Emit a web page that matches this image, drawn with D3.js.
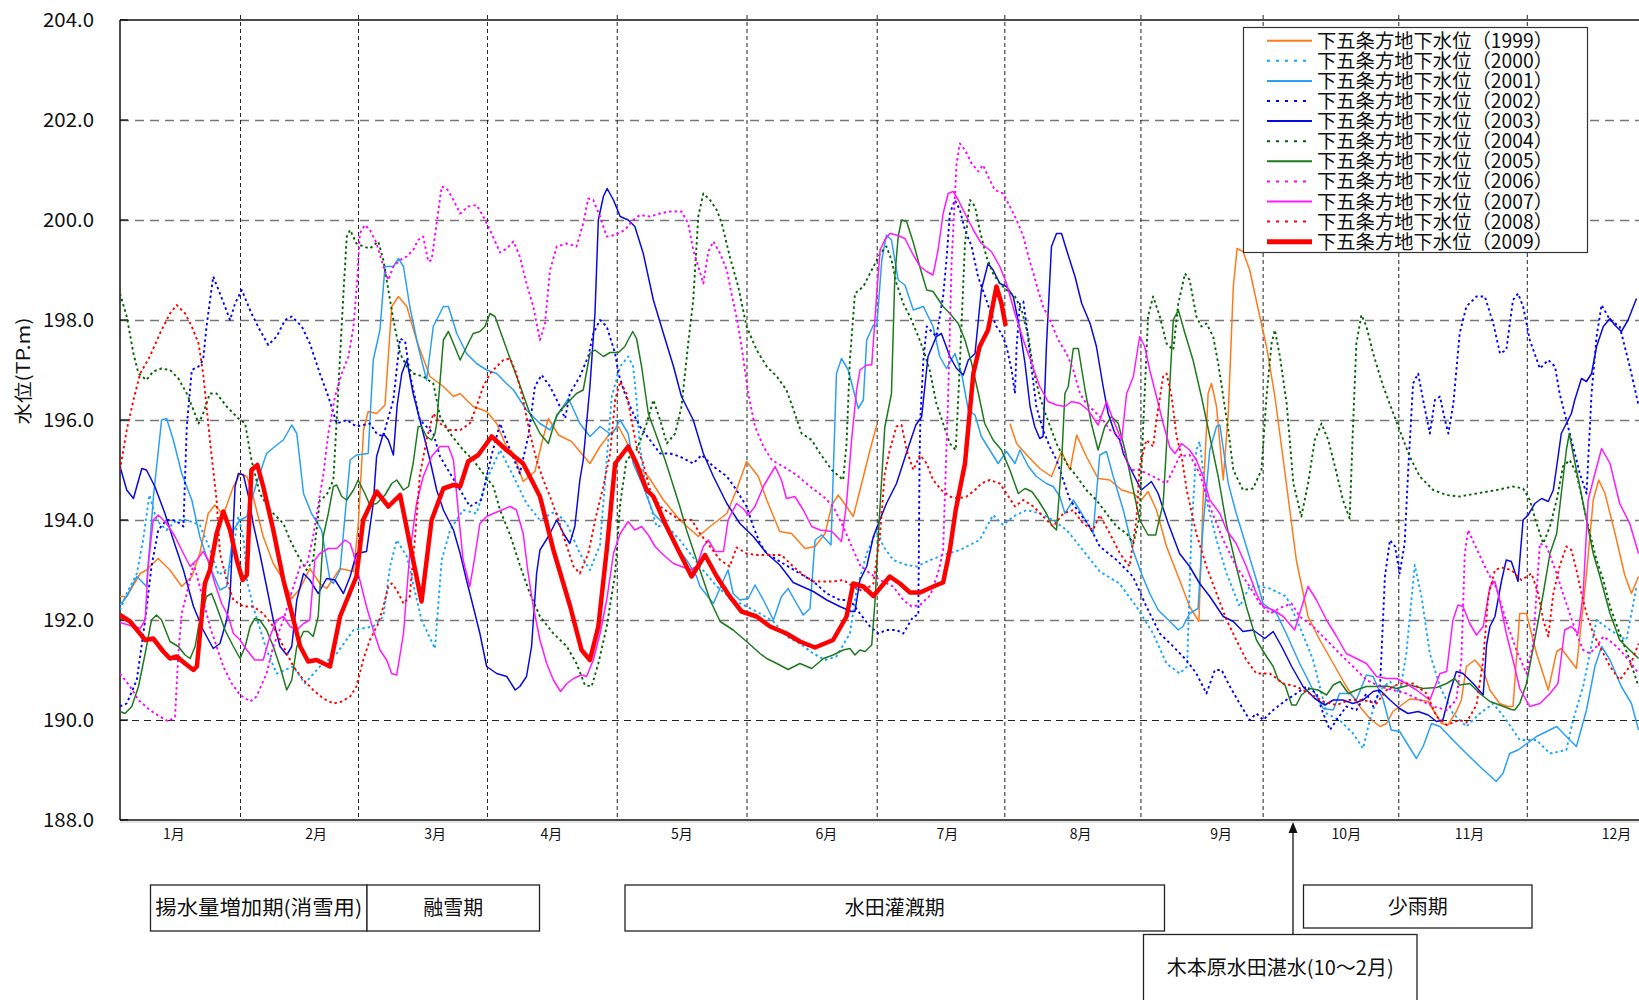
<!DOCTYPE html>
<html><head><meta charset="utf-8">
<script src="https://cdn.jsdelivr.net/npm/d3@7"></script>
<style>
body{margin:0;background:#fff}
svg{display:block}
text{font-family:"Noto Sans CJK JP","Noto Sans",sans-serif;fill:#111}
</style>
</head><body>
<svg id="c" width="1639" height="1000"></svg>
<script>
// ---------- data ----------
const yTicks = [188,190,192,194,196,198,200,202,204];
const sepDays = [28.7,56.8,87.5,118.4,149.3,180.3,210.7,243.1,272.2,304.5,335.1];
const monthDays = [12.7,46.6,74.9,102.6,133.7,168.1,196.9,228.6,262.1,291.9,321.2,356.2];
const monthLabels = ["1月","2月","3月","4月","5月","6月","7月","8月","9月","10月","11月","12月"];
const years = [1999,2000,2001,2002,2003,2004,2005,2006,2007,2008,2009];
const legendPrefix = "下五条方地下水位";
const periodLabels = ["揚水量増加期(消雪用)","融雪期","水田灌漑期","少雨期","木本原水田湛水(10〜2月)"];
const yTitle = "水位(TP.m)";

const s1999 = [[0,192.47],[1.6,192.47],[4.8,192.93],[6.3,193.0],[9.1,193.23],[11.9,193.0],[14.7,192.67],[17.1,192.87],[19,193.33],[21,194.13],[22.6,194.3],[24.6,194.1],[27,194.67],[28.6,194.93],[30.2,194.87],[31.7,194.47],[34.1,193.67],[36.5,193.13],[38.9,192.8],[40.9,192.43],[42.9,192.63],[45.2,193.03],[47.6,192.73],[49.2,192.63],[52.4,193.03],[55.6,192.97],[56.7,193.87],[58,195.8],[59.1,196.17],[61.1,196.13],[63.1,196.3],[64.7,198.27],[66.3,198.47],[68.3,198.27],[70.6,197.6],[73.8,196.87],[77,196.67],[79.4,196.47],[81,196.53],[84.1,196.27],[87.3,196.17],[89.7,195.93],[92,195.47],[93.7,195.33],[96,194.77],[98.8,194.97],[100.4,195.53],[102,196.03],[104.4,195.7],[107.5,195.57],[111.9,195.13],[114.3,195.47],[116.7,195.73],[118.7,195.87],[120.6,195.57],[123,195.1],[125.8,194.87],[129.4,194.4],[133.3,194.0],[137.7,193.67],[140.5,193.87],[144.5,194.13],[146.8,194.6],[149.2,195.17],[152,194.87],[154,194.4],[157.1,193.77],[159.9,193.73],[163.1,193.43],[165.5,193.47],[167.9,193.73],[169.5,194.3],[171,194.5],[173,194.27],[174.6,194.07],[176.6,194.73],[178.6,195.4],[180.2,195.9],[181,null],[211.9,195.93],[213.5,195.53],[215.9,195.3],[219,195.03],[221.8,194.87],[224.2,195.37],[226.2,195.0],[227.8,195.7],[230.1,195.27],[232.9,194.83],[235.7,194.8],[238.5,194.6],[241.3,194.53],[243.2,194.4],[244.8,194.57],[246.8,194.2],[249.2,193.47],[252.3,192.8],[254.7,192.27],[256.9,191.97],[257.9,194.4],[259.1,196.53],[259.9,196.73],[261.1,196.27],[262.7,194.8],[263.9,196.13],[265.1,198.67],[266,199.43],[267.4,199.37],[269,199.0],[271.4,198.07],[273,197.47],[275,196.47],[277,195.2],[280.1,193.2],[282.9,192.07],[285.7,191.6],[288.9,191.13],[292,190.67],[295.2,190.27],[297.6,190.03],[300,189.87],[301.6,189.93],[303.1,190.17],[304.7,190.27],[307.1,190.42],[309.5,190.4],[311.5,190.37],[312.7,190.2],[314.7,189.93],[316.2,189.9],[318.2,190.17],[319.4,190.4],[320.6,191.07],[322.6,191.2],[324.6,191.0],[326.2,190.6],[328.5,190.33],[330.5,190.27],[331.7,190.27],[333.3,192.13],[334.9,192.13],[337.3,191.33],[340.1,190.6],[342.1,191.37],[343.2,191.43],[346.8,191.03],[349.2,192.93],[350.8,194.4],[352.1,194.8],[353.6,194.53],[356,193.73],[358.3,192.9],[359.9,192.53],[361.6,192.87]];

const s2000 = [[0,192.2],[1.6,192.53],[4,192.93],[5.5,193.6],[7,194.5],[8.7,194.0],[11.1,193.8],[13.5,194.0],[15.9,194.0],[19,193.9],[21.5,193.4],[23.5,192.9],[26.2,193.07],[28.2,194.07],[29.5,193.6],[30.2,192.8],[31.7,192.27],[34.9,191.4],[37.3,190.93],[41.3,191.07],[44,190.73],[47.6,191.07],[51.6,191.33],[55.6,191.8],[60.3,191.87],[62.7,192.07],[64.3,193.07],[65.9,193.6],[68.3,193.27],[71.8,192.0],[75,191.43],[76.6,193.2],[78.6,193.8],[81.7,194.2],[84.9,194.13],[87.3,194.8],[90.5,195.4],[93.7,194.87],[96.8,194.33],[100,194.0],[103.6,194.17],[106.4,193.93],[109.5,193.33],[111.9,193.0],[114.3,193.5],[115.9,195.2],[117.1,196.47],[119.1,197.07],[121,197.27],[122.2,197.07],[123,196.4],[123.8,195.47],[125.4,194.53],[127.8,193.87],[130,193.9],[133.3,193.6],[138.1,193.07],[142.1,192.67],[146,192.4],[149.2,192.27],[152.4,192.13],[155.6,191.97],[158.7,191.67],[161.9,191.53],[165.1,191.33],[167.9,191.2],[170.6,191.27],[173.8,191.73],[175.4,192.6],[177.8,193.33],[180.2,193.8],[181.8,193.47],[184.1,193.2],[187.3,193.1],[189.7,193.07],[193,193.2],[196,193.3],[200,193.4],[204.7,193.6],[207.9,194.1],[210.3,193.9],[212.7,194.07],[215.9,194.2],[219,194.13],[222.2,194.0],[225.4,193.8],[228.6,193.47],[233.3,192.97],[238,192.73],[242,192.27],[246,191.73],[249.2,191.13],[252.3,190.93],[254.1,191.07],[255.1,193.73],[256.3,195.4],[257.1,195.57],[258.7,194.4],[261.1,193.6],[263.5,192.93],[266.6,192.27],[269,192.67],[271.4,192.67],[273.8,192.63],[277.7,192.47],[280.9,191.87],[284.1,191.2],[287.3,190.13],[290.4,190.0],[293.6,189.73],[296,189.43],[297.6,190.0],[300,190.6],[302.4,190.77],[304.7,190.53],[306.3,191.33],[308.3,193.1],[309.9,192.47],[311.9,191.33],[314.3,190.67],[317.4,190.13],[320.6,189.87],[323.8,190.13],[327,190.33],[330.1,190.0],[333.3,189.6],[337.3,189.6],[340.5,189.33],[344.4,189.4],[346,190.0],[348.4,190.67],[351.6,192.0],[354.8,191.8],[358.7,191.6],[361.1,192.67]];

const s2001 = [[0,192.3],[1.6,192.47],[4,192.87],[6.3,192.67],[8,194.5],[9.9,196.0],[11.1,196.03],[12.7,195.6],[14.7,194.93],[17.1,194.4],[19,193.67],[21.4,193.07],[23.8,192.6],[25.4,192.67],[27,193.8],[28.6,194.0],[30.2,194.07],[32.5,194.73],[34.9,195.33],[37.3,195.5],[38.9,195.6],[40.9,195.9],[42.1,195.73],[43.7,194.53],[45.6,194.13],[48,193.8],[50,192.8],[50.8,192.73],[52.4,193.0],[54.8,195.2],[56.3,195.3],[59.1,195.33],[60.3,197.2],[61.9,197.8],[63.1,199.07],[65.1,199.07],[66.3,199.23],[67.5,199.07],[69,198.27],[71,197.47],[73,196.8],[74.6,197.87],[77,198.27],[78.2,198.27],[80.2,197.73],[82.5,197.33],[84.9,197.13],[87.3,197.0],[89.7,196.93],[92,196.73],[93.7,196.6],[96.8,196.2],[100,195.93],[102.4,195.8],[104.4,196.13],[106.8,196.43],[109.5,195.93],[111.9,195.67],[114.3,195.87],[117.1,195.7],[119.1,196.0],[121,195.73],[122.2,195.13],[124.6,194.67],[127,194.13],[129.4,193.93],[132.5,193.47],[134.9,193.2],[137.3,192.87],[138.1,192.67],[141.3,192.33],[143.7,192.8],[144.8,193.0],[146,192.53],[147.6,192.4],[149.6,192.43],[151.2,192.7],[153.2,192.4],[155.6,192.0],[157.5,192.47],[159.1,192.63],[161.1,192.33],[162.7,192.1],[164.3,192.23],[165.5,193.6],[167.1,193.7],[169.3,193.5],[170.6,196.93],[171.8,197.23],[173.4,197.0],[175.8,196.23],[177,196.4],[177.8,197.6],[179.4,197.9],[180.2,197.87],[181.4,199.2],[182.5,199.7],[183.7,199.6],[185.3,198.8],[186.9,198.7],[188.9,198.2],[191.3,198.27],[193.6,197.87],[195.2,197.27],[196.8,197.03],[198.8,197.33],[200.4,196.93],[202,196.2],[203.6,196.1],[205.1,195.67],[207.1,195.4],[209.1,195.13],[211.1,195.37],[213.1,195.13],[214.3,195.4],[216.3,195.07],[218.2,194.87],[220.6,194.73],[222.2,194.67],[223.8,194.47],[225,194.13],[227,194.4],[229,194.13],[231.7,193.73],[233.3,195.3],[234.9,195.37],[236.5,194.87],[238.9,194.2],[241.2,193.4],[243.2,192.93],[245.2,192.53],[247.2,192.2],[250,191.97],[252,191.8],[253.1,191.87],[254.7,192.13],[256.7,192.23],[257.9,193.87],[259.5,195.4],[261.1,195.87],[261.9,195.9],[263.9,194.73],[265.8,194.13],[268.2,193.47],[270.6,192.8],[272.2,192.33],[275.4,192.13],[277.7,191.73],[280.9,191.13],[284.1,190.6],[286.5,190.23],[288.9,190.2],[290.4,190.53],[292.8,190.53],[294.4,190.4],[296.8,190.9],[298.4,190.87],[300.8,190.4],[302.7,189.8],[304.7,189.77],[308.7,189.23],[310.3,189.47],[312.3,189.93],[314.3,189.87],[317.4,189.6],[320.6,189.33],[323.8,189.07],[327.7,188.77],[329.3,188.93],[330.9,189.33],[332.9,189.4],[337.3,189.67],[342.1,189.87],[344.4,189.67],[346.8,189.47],[349.2,190.2],[351.2,191.07],[352.8,191.47],[354.8,191.2],[357.5,190.67],[359.9,190.33],[361.6,189.8]];

const s2002 = [[0,190.27],[1.6,190.33],[4,190.8],[6,192.0],[7.5,193.07],[9.1,193.8],[11.1,194.0],[12.7,194.0],[14.3,193.93],[15.1,193.87],[15.9,195.87],[17.1,197.0],[18.7,197.07],[19.8,197.2],[20.6,197.87],[22.2,198.87],[23.8,198.53],[26.2,198.0],[27.4,198.33],[29,198.6],[31.3,198.13],[33.3,197.8],[35.3,197.5],[37.3,197.67],[39.3,198.0],[40.9,198.07],[43.3,197.87],[45.2,197.53],[47.6,196.93],[49.6,196.47],[51.6,195.93],[54,196.0],[56.3,195.87],[59.5,195.93],[61.1,195.73],[62.7,195.67],[63.5,195.93],[65.1,196.4],[66.7,197.63],[67.9,197.57],[69,196.93],[71.4,196.0],[74.6,195.73],[76.2,195.27],[78.6,194.93],[81,194.6],[83.3,194.27],[86,194.4],[88.5,195.3],[90.5,195.93],[92.9,195.4],[95.2,194.93],[97.2,195.67],[98.8,196.67],[100.4,196.9],[102.4,196.67],[104.4,196.33],[106,196.03],[107.1,196.53],[109.5,196.87],[111.5,197.27],[112.7,197.73],[114.3,198.0],[115.9,197.87],[117.9,197.33],[118.7,196.93],[120.2,196.53],[122.2,196.13],[123.8,195.87],[126.2,195.6],[128.6,195.33],[131,195.33],[133.3,195.27],[136.5,195.13],[138.5,195.3],[141.3,195.07],[144.5,194.87],[146.8,194.6],[149.2,194.27],[150.8,193.87],[152.4,193.53],[154,193.33],[157.9,193.13],[161.9,192.93],[165.1,192.77],[168.3,192.53],[171.4,192.4],[173.8,192.4],[176.2,192.13],[178.6,191.87],[180.6,191.73],[182.5,191.8],[184.9,191.8],[186.5,191.73],[188.9,192.07],[190.1,192.1],[190.4,195.3],[190.6,196.07],[191.3,197.2],[192.1,197.87],[194.4,197.67],[196,198.47],[196.8,199.2],[197.6,200.13],[198.8,200.4],[200,200.2],[201.2,199.8],[202.8,199.47],[204.3,198.87],[206,198.47],[207.1,198.2],[208.7,197.87],[209.9,197.73],[211.1,197.47],[212.3,197.0],[213.1,196.53],[213.5,197.47],[214.3,198.33],[215.1,198.37],[215.9,197.87],[217.1,197.0],[218.2,196.27],[219.8,195.8],[221.4,195.47],[223,195.2],[224.6,194.8],[226.2,194.4],[228.6,194.13],[230.9,193.87],[233.3,193.47],[237.3,193.2],[241.2,192.87],[244.4,192.27],[247.6,191.73],[250.8,191.47],[253.9,191.2],[256.3,190.93],[258.7,190.53],[260.7,191.0],[262.3,191.0],[264.3,190.67],[266.6,190.33],[269,190.0],[270.6,190.13],[272.2,190.0],[274.6,190.2],[277.7,190.4],[280.1,190.53],[282.5,190.67],[284.9,190.53],[286.5,190.13],[288.1,189.8],[289.7,190.0],[292,190.27],[294.4,190.2],[296.8,190.53],[298.4,190.27],[300,190.6],[301.2,192.87],[302.4,193.6],[303.6,193.47],[304.7,192.93],[305.9,193.53],[306.7,194.93],[307.9,196.73],[309.1,196.93],[310.3,196.4],[311.9,195.73],[313.1,196.4],[314.3,196.47],[315.5,196.0],[316.3,195.73],[317.5,196.33],[319,197.73],[320.6,198.27],[323,198.47],[325,198.47],[327,197.93],[328.6,197.33],[330.1,197.4],[331.7,198.4],[332.9,198.53],[334.1,198.27],[335.7,197.6],[338.1,197.03],[340.1,197.2],[341.7,197.07],[342.8,196.53],[344.4,196.0],[346,195.47],[347.6,194.93],[349.2,194.53],[350.4,196.53],[351.6,197.67],[352.8,198.3],[354.8,198.0],[357.1,197.87],[359.5,197.07],[361.5,196.33]];

const s2003 = [[0,195.07],[1.6,194.6],[3.2,194.43],[5.2,195.03],[6.3,195.0],[8.3,194.67],[10.7,194.13],[12.7,193.6],[15.1,193.0],[17.5,192.27],[19.8,191.8],[22.2,191.43],[23.8,191.53],[25.4,192.0],[26.2,192.47],[27.4,194.67],[28.2,194.93],[29.4,194.9],[30.6,194.47],[31.7,193.93],[33.3,193.33],[34.9,192.67],[36.5,192.0],[38.1,191.47],[39.7,191.3],[40.9,191.47],[42.1,192.4],[43.7,192.93],[45.2,192.8],[47.2,192.53],[49.2,192.83],[51.2,192.8],[53.2,192.53],[54.8,192.87],[56.3,193.33],[58.7,193.37],[60.3,194.33],[61.1,195.27],[62.7,195.73],[63.9,195.6],[65.1,195.3],[66,196.3],[67.1,196.93],[68.3,197.2],[69.8,196.53],[71.8,195.87],[73.8,195.2],[75.4,194.6],[77,194.2],[79.4,193.8],[81,193.33],[82.5,192.8],[84.1,192.27],[85.7,191.73],[87.3,191.07],[89.7,190.93],[92.1,190.87],[94.1,190.6],[95.2,190.67],[96.8,190.87],[98,191.47],[99.2,192.93],[100,193.4],[102,193.67],[104,194.0],[105.6,193.73],[107.1,193.53],[108.3,193.87],[109.5,194.8],[110.3,195.2],[111.9,196.67],[113.1,198.13],[113.9,200.0],[115.1,200.47],[116,200.63],[117.5,200.4],[119.1,200.07],[121,200.0],[122.6,199.87],[124.6,199.33],[127,198.4],[129.4,197.73],[131.8,197.07],[133.7,196.47],[136.5,196.0],[138.9,195.33],[141.3,194.87],[144.5,194.33],[147.6,193.93],[150.8,193.67],[154,193.33],[157.1,193.1],[160.3,192.75],[165.1,192.57],[168.3,192.4],[171.4,192.27],[174.2,192.17],[175,192.17],[176.2,192.8],[177.8,193.07],[179.4,193.67],[180.6,193.93],[182.5,194.33],[184.9,194.73],[187.3,195.35],[189.5,195.9],[190.9,196.07],[192.4,197.27],[194.4,197.67],[195.6,197.73],[197.6,197.27],[199.2,197.03],[200.8,196.9],[202,197.2],[203.6,197.33],[205.1,198.6],[206.7,199.13],[207.9,199.0],[209.5,198.73],[211.1,198.67],[212.7,198.47],[214.3,197.8],[215.5,197.13],[216.7,196.27],[217.8,195.87],[219,195.63],[219.8,195.67],[220.6,197.47],[221.8,199.47],[223,199.73],[224.2,199.73],[225.4,199.4],[227.4,198.87],[229,198.33],[231,197.93],[232.5,197.47],[234.1,196.67],[235.3,196.13],[236.9,195.73],[238.1,195.6],[238.9,195.33],[241.2,194.93],[243.2,194.6],[245.6,194.77],[247.2,194.53],[249.6,193.93],[252.3,193.33],[254.7,193.07],[257.1,192.73],[259.5,192.47],[262.7,192.07],[265.1,191.97],[267.4,191.77],[269.8,191.8],[272.6,191.63],[274.6,191.77],[276.6,191.47],[279,191.07],[281.7,190.67],[284.5,190.43],[286.9,190.3],[288.9,190.4],[291.2,190.4],[293.6,190.33],[296,190.4],[298.4,190.57],[300,190.6],[302.4,190.4],[304.7,190.23],[306.7,190.13],[309.1,190.17],[311.5,190.1],[313.5,189.97],[315,190.0],[316.6,190.53],[318.2,190.97],[319.8,190.93],[322.2,190.73],[324.6,190.5],[325.4,191.5],[326.2,191.87],[327.4,192.07],[329,192.8],[330.1,193.2],[331.3,193.17],[332.9,192.77],[334.1,194.0],[335.3,194.1],[336.9,194.33],[338.5,194.43],[340.1,194.37],[341.3,194.6],[342.1,195.07],[343.2,195.73],[344.4,195.93],[345.6,196.13],[346.4,196.4],[348,196.83],[349.2,196.77],[350.4,196.93],[351.6,197.47],[353.2,197.87],[354.8,198.03],[355.9,197.9],[357.5,197.77],[359.1,198.0],[361.1,198.43]];

const s2004 = [[0,198.53],[1.6,198.07],[3.2,197.33],[4.4,196.93],[6.3,196.8],[7.9,196.97],[9.9,197.03],[11.9,197.0],[13.9,196.83],[15.9,196.53],[17.5,196.2],[18.7,195.93],[19.8,196.13],[21.4,196.53],[23,196.53],[25.4,196.27],[28.2,196.03],[29.8,195.93],[31.3,195.2],[33.3,194.53],[35.7,194.2],[38.9,193.93],[40.5,193.6],[42.1,193.33],[44.4,193.0],[46,193.2],[47.6,194.4],[49.2,194.5],[50.8,194.8],[51.6,196.0],[52.4,197.27],[53.2,198.53],[54,199.67],[54.8,199.8],[56.3,199.53],[57.9,199.47],[59.5,199.43],[61.5,199.57],[62.7,199.2],[63.9,198.6],[65.1,198.0],[66.7,197.33],[68.3,197.07],[69.8,196.93],[72.2,196.87],[74.6,196.73],[76.2,196.07],[78.6,195.73],[81.7,195.4],[84.1,195.2],[86.5,194.93],[88.9,194.67],[90.5,194.2],[92.9,193.7],[95.2,193.1],[97.6,192.53],[100,192.07],[103.2,191.73],[106.4,191.47],[108.7,191.13],[110.7,190.7],[112.3,190.67],[113.9,191.13],[115.9,191.87],[117.9,192.93],[119.1,194.33],[120.6,195.2],[123,195.4],[125.4,195.93],[127,196.4],[128.6,196.0],[130.2,195.53],[132.2,195.73],[133.7,196.27],[135.3,197.53],[136.5,198.4],[137.7,200.07],[138.9,200.53],[140.5,200.4],[142.1,200.2],[143.3,199.93],[145.2,199.27],[147.2,198.67],[149.2,197.87],[151.6,197.4],[154,197.07],[156.4,196.87],[158.7,196.6],[160.7,196.13],[162.3,195.73],[164.7,195.6],[166.7,195.33],[169.5,195.0],[172.2,194.8],[173,195.53],[173.8,197.2],[175,198.53],[177,198.67],[179,199.0],[181,199.33],[182.5,199.47],[183.7,199.2],[184.9,198.73],[186.5,198.33],[188.1,198.07],[190.1,197.67],[191.3,197.4],[192.8,197.0],[194.4,196.33],[196,195.93],[197.6,195.53],[199,195.4],[200,197.13],[201.2,199.53],[202.4,200.4],[203.6,200.27],[204.7,199.8],[206.3,199.27],[207.9,198.93],[209.5,198.73],[211.1,198.6],[213.1,198.47],[214.7,198.2],[216.3,197.67],[217.5,197.0],[219,196.47],[220.6,196.07],[223,195.53],[225.4,195.13],[227.8,194.87],[230.1,194.6],[232.5,194.4],[234.9,194.13],[237.3,193.87],[239.7,193.73],[241.3,193.53],[242.8,194.07],[243.6,195.8],[244.8,198.07],[246,198.47],[247.6,198.07],[249.2,197.53],[250.8,197.4],[252,198.33],[253.6,198.93],[254.7,198.8],[256.3,198.07],[257.5,197.87],[258.7,197.93],[260.3,197.67],[261.5,197.13],[262.7,196.47],[263.9,195.8],[265.1,195.0],[267.4,194.6],[269.8,194.63],[271.8,195.0],[273,196.47],[274.2,197.53],[275,197.8],[276.2,197.27],[277.8,196.33],[279.4,194.73],[281.3,194.07],[282.9,194.73],[284.5,195.6],[286.1,195.93],[287.7,195.6],[289.3,195.07],[291.2,194.4],[292.8,194.03],[293.6,195.87],[294.4,197.53],[295.6,198.1],[296.8,197.87],[298.4,197.33],[300.8,196.67],[303.2,196.13],[304.7,195.8],[307.1,195.27],[309.5,194.87],[312.7,194.6],[315.9,194.5],[319,194.47],[323,194.53],[327.8,194.6],[331.7,194.67],[334.1,194.63],[335.7,194.4],[337.3,193.93],[338.9,193.53],[340.5,193.87],[342.1,194.4],[343.6,195.07],[345.2,195.2],[346.8,194.93],[348.4,194.33],[350,193.73],[351.6,193.2],[353.2,192.8],[354.8,192.27],[357.1,191.73],[359.5,191.2],[361.6,190.67]];

const s2005 = [[0,190.17],[1.2,190.13],[2.8,190.27],[4.4,190.67],[6,191.33],[7.5,192.0],[8.7,192.1],[9.9,192.0],[11.9,191.57],[13.9,191.47],[15.5,191.3],[16.7,191.23],[17.9,191.47],[18.7,191.87],[20.6,192.47],[21.8,192.53],[23,192.27],[25,191.8],[27,191.47],[28.6,191.23],[29.8,191.47],[31,191.87],[32.1,192.03],[33.3,192.0],[34.9,191.8],[36.5,191.47],[38.1,191.07],[39.7,190.6],[40.9,190.8],[42.1,191.47],[43.7,191.77],[44.8,191.77],[46,191.67],[47.2,192.07],[48.4,193.67],[49.6,194.13],[50.8,194.67],[51.6,194.7],[52.8,194.47],[54,194.4],[55.6,194.6],[56.7,194.8],[58.3,194.53],[59.5,194.3],[61.1,194.33],[63.1,194.5],[64.7,194.73],[65.9,194.8],[67.5,194.6],[68.7,194.67],[69.8,195.13],[71,195.87],[71.8,195.87],[73,195.67],[74.2,195.6],[75,195.73],[75.4,195.93],[77,197.6],[78.2,197.77],[79.4,197.53],[81,197.2],[82.9,197.53],[84.1,197.73],[85.7,197.77],[86.9,197.87],[88.1,198.13],[89.3,198.07],[91.3,197.6],[93.3,197.13],[95.2,196.7],[97.6,196.13],[100,195.73],[102,195.53],[104,196.1],[106.4,196.33],[108.7,196.53],[110.3,196.6],[111.9,197.33],[113.1,197.4],[115.1,197.27],[116.7,197.35],[118.7,197.35],[120.2,197.47],[121,197.6],[122.1,197.77],[123,197.63],[124.2,197.07],[125.8,196.13],[127.8,195.67],[129.8,195.2],[131.8,194.67],[133.3,194.27],[134.9,193.8],[136.5,193.4],[138.9,192.8],[140.5,192.4],[142.9,191.97],[146,191.8],[149.2,191.57],[152.4,191.33],[154,191.23],[156.4,191.13],[159.1,191.01],[161.9,191.13],[164.7,191.03],[167.5,191.23],[169.8,191.3],[172.2,191.4],[173.8,191.43],[175,191.3],[176.2,191.4],[177.4,191.37],[179,191.5],[179.8,192.4],[180.6,193.73],[182.1,195.85],[183.7,196.53],[184.5,198.87],[185.3,199.67],[186.1,200.0],[187.3,199.97],[188.9,199.55],[190.5,199.05],[192.1,198.6],[193.6,198.57],[196,198.27],[197.6,198.13],[199.6,197.93],[201.2,197.6],[202.8,197.13],[204.4,196.53],[205.9,195.93],[207.9,195.6],[209.9,195.4],[211.9,195.0],[213.9,194.53],[215.5,194.63],[217.1,194.57],[218.6,194.4],[220.6,194.13],[221.8,193.9],[223,193.8],[224.2,195.13],[225,196.53],[225.8,196.67],[227,197.43],[228.2,197.43],[229.8,196.6],[231.3,195.93],[232.9,195.4],[234.5,195.87],[236.1,196.07],[237.7,195.93],[239.3,195.4],[241.3,194.6],[242.8,194.0],[244.8,193.7],[246.6,193.7],[248.4,194.33],[249.2,195.5],[250.8,198.0],[252,198.2],[253.6,197.73],[255.5,197.2],[257.5,196.47],[259.5,195.67],[261.5,194.87],[263.5,193.9],[265.8,193.07],[268.2,192.27],[270.6,191.6],[273,191.27],[274.6,191.07],[275.8,190.8],[277.4,190.7],[279,190.3],[280.1,190.3],[281.3,190.5],[283.3,190.63],[285.3,190.6],[287.3,190.5],[288.9,190.7],[290.5,190.77],[292.5,190.53],[294.4,190.6],[296.8,190.67],[299.2,190.67],[301.6,190.68],[304,190.63],[307.1,190.7],[310.3,190.63],[313.5,190.65],[315.9,190.73],[317.8,190.83],[319,190.7],[321.4,190.73],[323.8,190.53],[326.2,190.37],[328.5,190.3],[331.3,190.21],[332.1,190.2],[333.3,190.33],[334.9,190.73],[337.3,191.8],[338.9,192.53],[340.5,193.33],[342.1,193.73],[343.2,194.53],[344.4,195.4],[345.1,195.73],[346,195.33],[347.6,194.67],[349.2,194.0],[350.8,193.33],[352.4,192.87],[354.8,192.13],[357.1,191.6],[359.5,191.4],[361.6,191.23]];

const s2006 = [[0,190.93],[2.4,190.67],[4.4,190.4],[7.1,190.2],[9.5,190.07],[11.5,189.97],[13.1,190.07],[13.9,191.33],[14.7,192.13],[15.9,192.53],[17.5,193.13],[19,192.67],[20.2,192.27],[21.4,191.87],[23,191.47],[24.6,191.07],[26.6,190.73],[28.6,190.5],[31,190.37],[32.5,190.47],[34.9,190.93],[36.5,191.47],[38.9,192.0],[41.3,192.67],[42.9,193.07],[44.5,193.1],[46,193.67],[47.2,194.3],[48.4,194.9],[49.6,195.73],[51.2,196.47],[52.8,196.93],[54.4,197.27],[55.6,197.87],[56.5,198.8],[57.1,199.73],[58.3,199.9],[59.5,199.8],[61.1,199.53],[62.7,199.07],[63.9,198.8],[65.1,199.07],[66.7,199.2],[68.3,199.27],[69.8,199.4],[71,199.6],[72.2,199.67],[73.4,199.17],[74.2,199.2],[75.4,199.93],[76.6,200.67],[77.8,200.63],[79.4,200.4],[81,200.13],[82.9,200.27],[84.9,200.3],[86.5,200.07],[88.1,199.8],[90.5,199.35],[92.1,199.43],[93.7,199.57],[95.2,199.27],[96.8,198.73],[98.4,198.27],[100,197.6],[101.2,197.93],[102.4,199.0],[104,199.47],[106.4,199.53],[108.7,199.47],[110.3,199.93],[111.5,200.43],[112.7,200.4],[114.3,200.07],[115.9,199.67],[117.9,199.7],[120.2,199.8],[122.2,200.0],[123.8,200.1],[126.2,200.07],[128.6,200.13],[131,200.17],[133.7,200.17],[135.3,199.93],[136.5,199.4],[137.7,199.07],[138.9,198.73],[140.1,199.37],[141.3,199.57],[142.9,199.33],[144.5,199.0],[145.6,198.53],[146.8,198.07],[148,197.47],[149.6,196.53],[151.2,195.87],[153.2,195.47],[155.2,195.2],[157.9,195.07],[161.1,194.9],[164.3,194.67],[167.5,194.47],[169.8,194.27],[172.2,193.87],[174.6,193.4],[176.2,193.1],[178.6,192.93],[181,192.8],[184.1,192.67],[186.5,192.4],[188.5,192.27],[190.5,192.3],[193,192.5],[195,193.0],[196,193.4],[197.2,196.47],[198,199.13],[199.2,201.13],[200,201.53],[201.2,201.4],[202.8,201.13],[204.4,200.97],[205.5,201.1],[206.7,200.87],[208.3,200.6],[210.3,200.53],[211.9,200.27],[213.5,200.0],[215.1,199.67],[216.3,199.27],[217.5,198.93],[218.6,198.6],[219.8,198.27],[221.8,197.93],[223.4,197.6],[225.4,197.33],[227,197.0],[228.6,196.53],[230.1,196.33],[231.7,196.2],[234.1,196.0],[235.7,195.8],[237.3,195.73],[238.9,195.4],[240.5,195.0],[242.8,195.0],[246,194.87],[249.2,194.73],[252.3,195.27],[254.7,195.3],[257.1,194.93],[259.5,194.27],[262.7,193.6],[265.8,193.07],[269,192.67],[271.4,192.33],[273.8,192.13],[277,192.27],[279,192.33],[280.9,192.07],[284.1,191.87],[287.3,191.6],[290.4,191.33],[293.6,191.07],[296.8,190.8],[300,190.67],[303.1,190.6],[306.3,190.53],[309.5,190.4],[312.7,190.27],[315.9,190.2],[318.2,190.4],[319.4,191.2],[320.2,193.3],[321,193.8],[323,193.43],[325.4,193.0],[327.8,192.63],[330.1,191.97],[332.5,191.4],[334.9,190.93],[336.5,191.53],[338.1,193.53],[339.7,193.47],[342.1,192.93],[343.6,192.53],[345.2,192.13],[346.8,191.73],[348.4,191.4],[350,191.33],[351.6,191.47],[353.2,191.67],[355.6,191.53],[357.9,191.33],[359.9,191.13],[361.6,190.93]];

const s2007 = [[0,191.95],[3.2,191.87],[4.8,191.83],[6,192.0],[6.7,193.07],[7.9,194.0],[9.1,194.1],[11.1,193.93],[13.1,193.67],[15.1,193.33],[16.7,193.07],[18.3,193.2],[19.8,193.37],[21,193.2],[22.6,192.73],[24.2,192.33],[25.8,192.07],[27,191.73],[28.6,191.6],[30.2,191.4],[32.1,191.2],[34.1,191.2],[35.7,191.67],[37.3,192.0],[38.9,192.07],[40.5,191.87],[42.1,191.8],[43.7,191.93],[45.2,192.0],[46.4,193.2],[47.6,193.33],[49.6,193.43],[51.6,193.43],[53.6,193.6],[54.8,193.53],[55.6,193.33],[57.1,192.8],[58.7,192.27],[60.3,191.8],[61.9,191.4],[63.5,191.2],[64.7,190.93],[65.9,190.9],[67.5,191.73],[69,193.33],[70.6,194.33],[72.2,194.87],[74.2,195.27],[76.2,195.47],[78.2,195.47],[79.4,195.2],[80.6,194.13],[81.7,193.2],[83.3,192.67],[84.5,193.27],[85.7,193.93],[87.3,194.07],[88.9,194.13],[90.9,194.2],[92.9,194.27],[94.4,194.2],[96,193.73],[97.2,192.93],[98.4,192.27],[100,191.6],[101.6,191.13],[103.2,190.8],[104.9,190.57],[106.4,190.73],[108,190.83],[109.9,190.9],[111.1,190.87],[112.7,191.2],[114.3,191.73],[115.9,192.4],[117.5,193.33],[119.1,193.73],[121,193.97],[122.6,193.8],[124.2,193.87],[125.8,193.7],[127.4,193.47],[129.4,193.3],[131.8,193.13],[133.7,193.07],[135.7,193.0],[137.3,193.07],[138.9,193.47],[140.1,193.6],[141.7,193.37],[143.7,193.37],[144.8,194.0],[146.8,194.33],[148.4,194.23],[149.6,194.1],[151.2,194.27],[153.2,194.67],[156,195.07],[157.5,194.8],[158.7,194.43],[160.7,194.47],[162.7,194.2],[164.7,193.87],[166.7,193.8],[169.5,193.77],[171.8,193.57],[173,194.33],[174.2,195.6],[175.4,196.6],[176.2,197.0],[177.8,197.1],[179,197.1],[180.2,198.53],[181,199.4],[182.1,199.6],[183.3,199.73],[184.9,199.7],[186.9,199.63],[188.9,199.3],[190.5,199.07],[192.1,198.97],[193.6,198.9],[194.8,199.4],[196,200.13],[197.2,200.53],[198.4,200.57],[199.6,200.4],[201.2,200.13],[203.2,199.8],[205.1,199.53],[207.5,199.37],[209.5,199.07],[211.1,198.73],[213.1,198.13],[215.1,197.6],[217.1,197.13],[219,196.67],[221,196.37],[223,196.3],[225,196.27],[226.6,196.37],[228.6,196.33],[230.5,196.2],[232.9,195.9],[234.9,196.37],[236.5,196.0],[238.5,195.6],[239.7,196.53],[241.3,196.87],[242.8,197.67],[244,197.47],[245.2,197.0],[246.8,196.47],[248.4,195.93],[250,195.45],[251.2,195.33],[252.8,195.53],[254.7,195.4],[256.3,195.2],[257.9,194.87],[259.5,194.4],[261.9,194.13],[263.5,193.8],[265.8,193.53],[268.2,193.07],[270.6,192.53],[272.2,192.27],[274.6,192.2],[277,192.07],[279.7,191.8],[280.9,192.13],[282.9,192.67],[284.9,192.4],[287.3,192.0],[289.7,191.67],[292,191.33],[294.4,191.23],[296.8,191.13],[299.2,190.87],[301.6,190.83],[304,190.83],[306.3,190.73],[308.7,190.6],[311.9,190.4],[314.3,190.93],[315.9,190.97],[317.4,192.0],[318.6,192.3],[319.8,192.27],[321.4,191.93],[323,191.7],[324.6,191.87],[326.2,192.67],[327.4,192.77],[328.5,192.4],[330.1,191.73],[331.7,191.2],[333.3,190.63],[335.7,190.27],[338.1,190.33],[340.5,190.53],[342.4,190.73],[344,191.8],[345.6,191.87],[347.2,191.73],[348.4,192.53],[349.6,194.4],[350.8,194.8],[352.8,195.43],[354.8,195.13],[357.1,194.33],[359.5,193.93],[361.6,193.33]];

const s2008 = [[0,195.0],[1.6,195.8],[3.2,196.4],[4.8,196.93],[7.1,197.27],[9.5,197.73],[11.9,198.13],[13.5,198.3],[15.5,198.13],[17.1,197.87],[18.7,197.53],[19.8,196.93],[20.6,196.27],[21.4,195.6],[22.2,195.0],[23,194.4],[23.8,193.33],[25.4,192.8],[27,192.4],[29.4,192.27],[31.7,192.27],[34.1,192.13],[36.5,191.87],[38.9,191.47],[41.3,191.07],[43.7,190.8],[46,190.6],[48.4,190.43],[50.8,190.33],[52.8,190.37],[54.8,190.47],[56.3,190.67],[57.9,191.2],[59.5,191.6],[61.5,191.93],[62.7,192.27],[63.9,192.67],[64.7,192.73],[65.9,192.6],[67.5,192.33],[69,192.47],[70.2,193.6],[71.4,194.9],[73,195.6],[74.6,196.13],[76.2,195.93],[78.6,195.8],[81,195.8],[83.3,195.93],[84.9,196.27],[86.5,196.67],[88.1,196.93],[89.7,197.07],[91.3,197.2],[92.9,197.23],[94.4,196.93],[96,196.4],[97.6,195.73],[99.2,195.2],[100.8,194.8],[102.4,194.47],[104.4,194.0],[106.4,193.47],[108,193.07],[109.5,192.93],[111.5,193.33],[113.5,194.13],[115.1,194.67],[116.7,195.33],[117.9,196.4],[119.1,196.77],[120.6,196.53],[121.8,196.0],[123,195.47],[124.6,195.13],[126.2,194.6],[128.6,194.27],[131,194.13],[133.3,194.0],[136.1,194.0],[138.1,193.73],[140.5,193.47],[142.9,193.2],[145.2,193.07],[146.8,193.45],[149.2,193.33],[151.6,193.3],[154,193.3],[157.5,193.3],[160.3,193.07],[162.7,192.9],[165.1,192.77],[167.5,192.77],[169.8,192.77],[172.2,192.8],[174.6,192.67],[177,192.57],[179.4,192.73],[181,193.73],[182.1,194.93],[183.3,195.4],[184.9,195.87],[186.1,195.9],[187.3,195.4],[188.9,195.0],[190.5,195.3],[192.1,195.13],[193.6,194.8],[195.6,194.6],[197.6,194.47],[199.6,194.43],[201.6,194.47],[203.6,194.6],[205.1,194.73],[207.1,194.8],[209.5,194.73],[211.1,194.53],[213.1,194.27],[215.1,194.4],[217.5,194.27],[219.8,194.07],[222.2,193.87],[224.6,194.13],[227,194.2],[229.3,193.93],[231.7,193.8],[233.3,194.1],[235.7,193.73],[238.1,193.33],[240.4,193.07],[242,194.0],[242.8,195.07],[244.4,195.6],[246,195.47],[246.8,196.0],[248.4,196.87],[249.2,196.93],[250.4,196.47],[251.6,195.67],[252.8,195.27],[254,194.6],[256.3,193.73],[258.7,193.07],[261.1,192.53],[263.5,192.0],[265.8,191.6],[268.2,191.2],[270.6,190.93],[273.8,190.93],[277,190.73],[280.1,190.67],[283.3,190.53],[286.5,190.37],[289.7,190.3],[292.8,190.4],[296,190.4],[299.2,190.33],[301.6,190.6],[304.7,190.73],[307.9,190.73],[311.1,190.53],[313.5,190.07],[315.9,189.9],[319,190.0],[320.6,189.95],[323,190.3],[324.6,191.2],[325.8,192.47],[327.4,193.0],[329,193.05],[331.3,193.0],[333.7,192.8],[336.1,192.93],[337.7,192.53],[338.9,192.0],[340.1,191.67],[341.3,192.53],[342.8,193.07],[344.4,193.47],[345.6,193.4],[346.8,193.0],[348,192.53],[349.2,192.13],[350.8,191.73],[352.8,191.4],[354.8,191.07],[357.1,190.8],[359.5,191.07],[361.6,191.53]];

const s2009 = [[0,192.1],[2.4,191.97],[6,191.6],[7.9,191.63],[10.3,191.37],[11.9,191.23],[13.5,191.27],[15.5,191.13],[17.5,191.0],[18.3,191.07],[20.2,192.73],[21.4,193.0],[23,193.73],[24.6,194.17],[26.2,193.8],[27.8,193.2],[29.2,192.8],[30.2,192.9],[31.3,195.0],[32.7,195.1],[34.1,194.67],[36.5,193.8],[38.9,192.8],[40.5,192.27],[42.9,191.47],[44.8,191.17],[46.8,191.2],[50,191.07],[52.4,192.07],[56.3,192.87],[57.9,194.0],[61.1,194.57],[63.9,194.27],[66.7,194.5],[69,193.53],[71.8,192.37],[74.2,194.0],[77,194.63],[79.4,194.7],[81,194.67],[82.9,195.17],[85.3,195.3],[88.5,195.67],[92,195.4],[96,195.13],[100,194.47],[103.2,193.4],[107.2,192.27],[109.9,191.4],[111.9,191.2],[113.9,191.87],[115.9,193.4],[117.9,195.13],[121,195.47],[123,195.13],[125.4,194.6],[127,194.47],[129.8,193.93],[132.5,193.47],[136.1,192.87],[139.3,193.3],[142.1,192.87],[145.2,192.47],[148,192.17],[151.6,192.07],[154.8,191.87],[158.7,191.73],[161.9,191.57],[165.5,191.45],[169.8,191.6],[173,192.07],[174.6,192.73],[177,192.67],[179.4,192.48],[183.3,192.87],[185.7,192.73],[188.1,192.55],[190.5,192.55],[194.5,192.7],[196,192.75],[197.6,193.4],[199,194.2],[201.2,195.13],[203.2,196.93],[204.7,197.47],[206.7,197.8],[208.7,198.67],[209.9,198.33],[210.9,197.88]];

const seriesData = [s1999,s2000,s2001,s2002,s2003,s2004,s2005,s2006,s2007,s2008,s2009];

// ---------- styles ----------
const styles = [
  {c:"#ff7a1a", w:1.5, dash:null},
  {c:"#14a6ff", w:1.9, dash:"2.5,3"},
  {c:"#2aa0f5", w:1.5, dash:null},
  {c:"#0000ff", w:1.9, dash:"2.5,3"},
  {c:"#0a0ae0", w:1.5, dash:null},
  {c:"#006400", w:1.9, dash:"2.5,3"},
  {c:"#1f7a1f", w:1.5, dash:null},
  {c:"#ff00ff", w:1.9, dash:"2.5,3"},
  {c:"#ff1aff", w:1.5, dash:null},
  {c:"#ff0000", w:1.9, dash:"2.5,3"},
  {c:"#ff0000", w:4.5, dash:null}
];

const svg = d3.select("#c");
const L = 120, R = 1639, T = 20, B = 820;
const x = d3.scaleLinear().domain([0, 361.7]).range([L, R]);
const y = d3.scaleLinear().domain([188, 204]).range([B, T]);

svg.append("defs").append("clipPath").attr("id","clip")
  .append("rect").attr("x",L).attr("y",T-2).attr("width",R-L).attr("height",B-T+2);

// horizontal grid + y labels
const yAxis = d3.axisLeft(y).tickValues(yTicks).tickSize(-(R-L)).tickPadding(26)
  .tickFormat(d => d.toFixed(1));
const gy = svg.append("g").attr("transform",`translate(${L},0)`).call(yAxis);
gy.select(".domain").remove();
gy.selectAll(".tick line")
  .attr("stroke", d => d===190 ? "#222" : "#777")
  .attr("stroke-width", d => d===190 ? 1.1 : 1.6)
  .attr("stroke-dasharray", d => d===190 ? "7,5" : "9,6")
  .style("display", d => (d===188||d===204) ? "none" : null);
gy.selectAll(".tick text")
  .attr("fill","#111").attr("font-size",19)
  .attr("font-family",'"Noto Sans CJK JP",sans-serif')
  .attr("textLength",51).attr("lengthAdjust","spacingAndGlyphs");
// short inner tick marks on the left axis
svg.append("g").selectAll("line").data(yTicks).join("line")
  .attr("x1",L).attr("x2",L+8).attr("y1",d=>y(d)).attr("y2",d=>y(d))
  .attr("stroke","#111").attr("stroke-width",1.3);

// vertical month separators
svg.append("g").selectAll("line").data(sepDays).join("line")
  .attr("x1",d=>x(d)).attr("x2",d=>x(d)).attr("y1",15).attr("y2",B)
  .attr("stroke","#222").attr("stroke-width",1).attr("stroke-dasharray","4,3");

// frame
svg.append("line").attr("x1",L).attr("x2",R).attr("y1",T).attr("y2",T).attr("stroke","#111").attr("stroke-width",1.5);
svg.append("line").attr("x1",L).attr("x2",R).attr("y1",B).attr("y2",B).attr("stroke","#111").attr("stroke-width",1.5);
svg.append("line").attr("x1",L).attr("x2",R).attr("y1",B+2).attr("y2",B+2).attr("stroke","#ccc").attr("stroke-width",1);
svg.append("line").attr("x1",L).attr("x2",L).attr("y1",T).attr("y2",B).attr("stroke","#111").attr("stroke-width",1.5);

// month labels
const xAxis = d3.axisBottom(x).tickValues(monthDays).tickSize(0).tickPadding(9)
  .tickFormat((d,i)=>monthLabels[i]);
const gx = svg.append("g").attr("transform",`translate(0,${B})`).call(xAxis);
gx.select(".domain").remove();
gx.selectAll(".tick text").attr("fill","#111").attr("font-size",14)
  .attr("font-family",'"Noto Sans CJK JP",sans-serif');

// series
const line = d3.line().defined(d=>d[1]!=null).x(d=>x(d[0])).y(d=>y(d[1]));
const gl = svg.append("g").attr("clip-path","url(#clip)");
seriesData.forEach((s,i)=>{
  const st = styles[i];
  gl.append("path").datum(s).attr("d",line).attr("fill","none")
    .attr("stroke",st.c).attr("stroke-width",st.w)
    .attr("stroke-dasharray",st.dash).attr("stroke-linejoin","round");
});

// legend
const lg = svg.append("g");
lg.append("rect").attr("x",1243.5).attr("y",27.5).attr("width",344).attr("height",225)
  .attr("fill","#fff").attr("stroke","#333").attr("stroke-width",1.2);
years.forEach((yr,i)=>{
  const cy = 40.7 + i*20.1, st = styles[i];
  lg.append("line").attr("x1",1267).attr("x2",1312).attr("y1",cy).attr("y2",cy)
    .attr("stroke",st.c).attr("stroke-width", i===10 ? 5 : 2)
    .attr("stroke-dasharray", st.dash ? "3,6" : null);
  lg.append("text").attr("x",1317).attr("y",cy).attr("dy","0.36em")
    .attr("font-size",19.5).attr("textLength",236).attr("lengthAdjust","spacingAndGlyphs")
    .text(`${legendPrefix}（${yr}）`);
});

// y title
svg.append("text").attr("transform","translate(24,371) rotate(-90)")
  .attr("text-anchor","middle").attr("dy","0.36em").attr("font-size",18)
  .attr("textLength",107).attr("lengthAdjust","spacingAndGlyphs").text(yTitle);

// period boxes
const boxes = [
  {x0:150.5, x1:367, y0:885, y1:931, tl:207},
  {x0:367, x1:539.5, y0:885, y1:931, tl:null},
  {x0:625, x1:1164.5, y0:885, y1:931, tl:null},
  {x0:1303.5, x1:1532, y0:885, y1:928, tl:null},
  {x0:1143.5, x1:1417, y0:934.5, y1:1010, tl:null}
];
const gb = svg.append("g");
boxes.forEach((b,i)=>{
  gb.append("rect").attr("x",b.x0).attr("y",b.y0).attr("width",b.x1-b.x0).attr("height",b.y1-b.y0)
    .attr("fill","#fff").attr("stroke","#222").attr("stroke-width",1.3);
  const cy = i===4 ? 968 : (b.y0+b.y1)/2;
  const t = gb.append("text").attr("x",(b.x0+b.x1)/2).attr("y",cy).attr("dy","0.36em")
    .attr("text-anchor","middle").attr("font-size",20).text(periodLabels[i]);
  if (b.tl) t.attr("textLength",b.tl).attr("lengthAdjust","spacingAndGlyphs");
});
// arrow
gb.append("line").attr("x1",1293).attr("x2",1293).attr("y1",934.5).attr("y2",830)
  .attr("stroke","#111").attr("stroke-width",1.3);
gb.append("path").attr("d","M1293,822 L1288.5,833 L1297.5,833 Z").attr("fill","#111");
</script>
</body></html>
